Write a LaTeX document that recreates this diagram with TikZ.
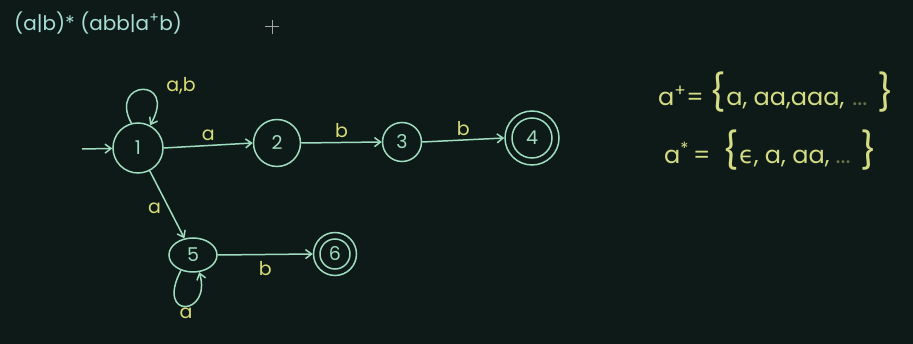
\documentclass[tikz,border=0pt]{standalone}
\usepackage{fontspec}
\setmainfont{Poppins}
\newfontfamily\dvfont{DejaVu Sans}
\usetikzlibrary{arrows.meta,shapes.geometric}
\definecolor{bg}{HTML}{0E1A17}
\definecolor{ink}{HTML}{9FDCC0}
\definecolor{lab}{HTML}{D9DC78}
\definecolor{head}{HTML}{A8DED6}
\definecolor{note}{HTML}{D4DC86}
\newcommand{\bigbr}[1]{{\fontsize{36}{36}\selectfont #1}}
\tikzset{
  state/.style={circle,draw=ink,line width=1.5pt,inner sep=0pt,text=ink,font=\fontsize{19}{19}\selectfont},
  edge/.style={draw=ink,line width=1.5pt,-{Straight Barb[length=6pt,width=9pt]}},
  elab/.style={text=lab,font=\fontsize{19}{19}\selectfont,inner sep=1pt},
  notetext/.style={text=note,font=\fontsize{24}{24}\selectfont,anchor=west,inner sep=0pt},
}
\begin{document}
\begin{tikzpicture}[x=1pt,y=-1pt]
\fill[bg] (0,0) rectangle (913,344);
\useasboundingbox (0,0) rectangle (913,344);
% heading
\node[text=head,font=\fontsize{20}{20}\selectfont,anchor=west,inner sep=0pt] (title) at (14,23) {(a|b)* (abb|a\textsuperscript{+}b)};
% cursor cross
\coordinate (cx) at (272,27);
\draw[gray!70,line width=1pt] ([xshift=-7pt]cx) -- ([xshift=7pt]cx) ([yshift=-7pt]cx) -- ([yshift=7pt]cx);
% states
\node[state,minimum size=50pt] (n1) at (138,148) {1};
\node[state,minimum size=47pt] (n2) at (277,143) {2};
\node[state,minimum size=39pt] (n3) at (402,142) {3};
\node[state,minimum size=54pt] (n4) at (532,138) {4};
\draw[ink,line width=1.5pt] (n4) circle (20);
\node[state,ellipse,minimum width=48pt,minimum height=34pt] (n5) at (193,255) {5};
\node[state,minimum size=43pt] (n6) at (335,254) {6};
\draw[ink,line width=1.5pt] (n6) circle (15);
% start
\coordinate (start) at (82,149);
\draw[edge] (start) -- (n1);
% edges
\draw[edge] (n1.east) -- node[elab,above=3pt] (l12) {a} (n2.west);
\draw[edge] (n2.east) -- node[elab,above=3pt] (l23) {b} (n3.west);
\draw[edge] (n3.east) -- node[elab,above=3pt] (l34) {b} (n4.west);
\draw[edge] (n1) -- node[elab,left=6pt,pos=0.55] (l15) {a} (n5);
\draw[edge] (n5.east) -- node[elab,below=5pt] (l56) {b} (n6.west);
% loops
\draw[edge] (n1.105) .. controls (108,80) and (178,76) .. (n1.62);
\node[elab] (l11) at (181,86) {a,b};
\draw[edge] (n5.232) .. controls (155,320) and (212,316) .. (n5.290);
\node[elab] (l55) at (186,313) {a};
% notes
\node[notetext] (p1) at (658,92) {a\textsuperscript{+}=\hspace{6pt}\bigbr{\{}a, aa,aaa,\hspace{8pt}\textcolor{note!45!bg}{...}\hspace{10pt}\bigbr{\}}};
\node[notetext] (p2) at (664,150) {a\textsuperscript{*}\hspace{4pt}=\hspace{12pt}\bigbr{\{}{\dvfont ϵ}, a, aa,\hspace{6pt}\textcolor{note!45!bg}{...}\hspace{10pt}\bigbr{\}}};
\end{tikzpicture}
\end{document}
